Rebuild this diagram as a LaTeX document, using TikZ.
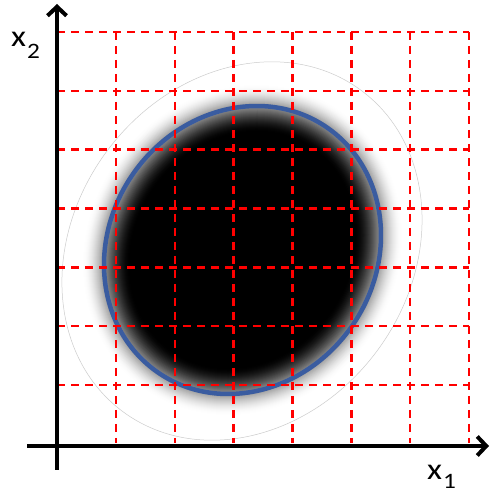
\documentclass[tikz,border=0pt]{standalone}
\usepackage{fontspec}
\setmainfont{Carlito}
\usetikzlibrary{arrows.meta}
\definecolor{ellblue}{RGB}{58,92,160}
\definecolor{gridred}{RGB}{255,0,0}
\begin{document}
\begin{tikzpicture}[x=1pt,y=1pt,
  axis/.style={line width=4pt,-{Straight Barb[length=9pt,width=19pt]}},
  gridline/.style={gridred,line width=2.4pt,dash pattern=on 8pt off 6pt},
  lab/.style={inner sep=0pt,anchor=base west,font=\fontsize{30}{32}\selectfont},
  sublab/.style={inner sep=0pt,anchor=base west,font=\fontsize{22}{24}\selectfont}]
\useasboundingbox[fill=white] (0,0) rectangle (491,493);
% faint outer ellipse
\begin{scope}[shift={(242,242)},rotate=53.3]
\draw[gray!40,line width=0.5pt] (0,0) ellipse[x radius=200,y radius=168];
\end{scope}
% blurred black body and blue outline
\begin{scope}[shift={(242.5,243)},rotate=55.4]
\foreach \i in {0,...,47}{
  \pgfmathsetmacro\d{24-\i}
  \pgfmathsetmacro\t{(\i+0.5)/48}
  \pgfmathsetmacro\p{100*\t*\t*(3-2*\t)}
  \fill[black!\p] (0,0) ellipse[x radius=146.3+\d, y radius=130.8+\d];
}
\fill[black] (0,0) ellipse[x radius=122.3,y radius=106.8];
\draw[ellblue,line width=4.5pt] (0,0) ellipse[x radius=148.8,y radius=133.3];
\end{scope}
% grid
\foreach \k in {0,...,6}{
  \pgfmathsetmacro\yy{108+58.83*\k}
  \draw[gridline] (57,\yy) -- (469,\yy);
  \pgfmathsetmacro\xx{116+58.83*\k}
  \draw[gridline] (\xx,461) -- (\xx,50);
}
% axes
\coordinate (yb) at (57,23);
\coordinate (yt) at (57,489);
\coordinate (xl) at (27,47);
\coordinate (xr) at (489,47);
\draw[axis] (yb) -- (yt);
\draw[axis] (xl) -- (xr);
% labels
\node[lab] (x2) at (11,446) {\scalebox{1.15}[1]{x}};
\node[sublab] (x2s) at (27,434) {\scalebox{1.15}[1]{2}};
\node[lab] (x1) at (427,13) {\scalebox{1.15}[1]{x}};
\node[sublab] (x1s) at (443,5) {\scalebox{1.15}[1]{1}};
\end{tikzpicture}
\end{document}
